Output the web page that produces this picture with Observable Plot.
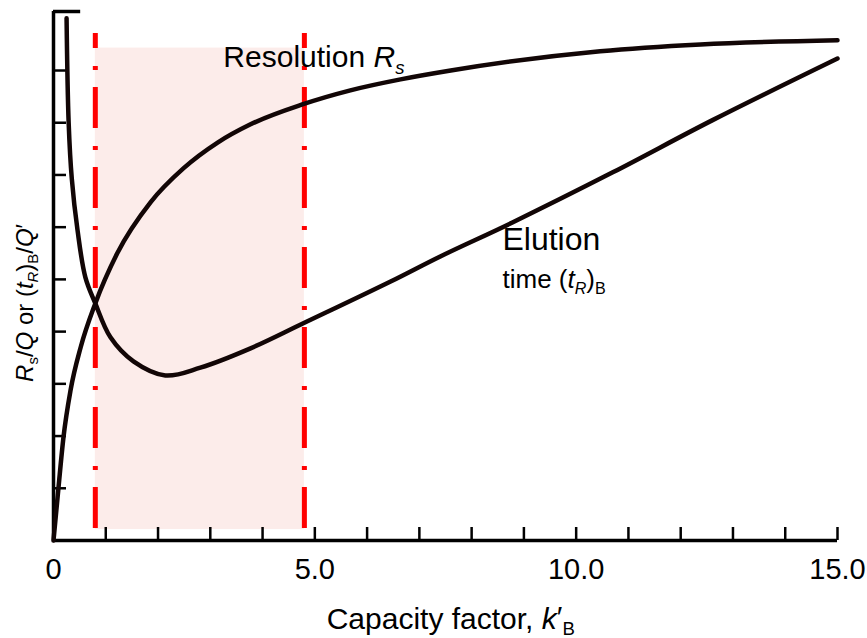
<!DOCTYPE html>
<html>
<head>
<meta charset="utf-8">
<script src="https://cdn.jsdelivr.net/npm/d3@7"></script>
<script src="https://cdn.jsdelivr.net/npm/@observablehq/plot@0.6"></script>
<style>
html, body { margin: 0; padding: 0; background: #fff; }
#chart svg { display: block; }
</style>
</head>
<body>
<div id="chart"></div>
<script>
// ---- data ----
const resolutionK = [0, 0.096, 0.19, 0.325, 0.52, 0.80, 1.22, 1.86, 2.49, 3.14, 3.77, 4.76, 5.68, 6.64, 7.60, 10.46, 12.38, 15.0];
const resolutionV = [0, 1.02, 1.97, 2.87, 3.70, 4.54, 5.50, 6.48, 7.13, 7.62, 7.97, 8.35, 8.62, 8.83, 9.00, 9.37, 9.50, 9.58];

const elutionK = [0.25, 0.29, 0.35, 0.46, 0.61, 0.80, 1.09, 1.53, 2.14, 2.81, 3.77, 4.78, 6.45, 7.40, 8.78, 10.70, 12.61, 15.0];
const elutionV = [10.0, 8.0, 6.93, 5.94, 5.04, 4.54, 3.89, 3.43, 3.16, 3.31, 3.68, 4.16, 4.96, 5.44, 6.09, 7.05, 8.05, 9.23];

const bandK = [0.8, 4.8];          // optimum k' range (dash-dot red lines)
const bandV = [0.21, 9.43];        // shaded region vertical extent
const cutoffV = [9.71, 0.23];      // dash-dot lines vertical extent (top, bottom)

const xTicks = [1, 2, 3, 4, 5, 6, 7, 8, 9, 10, 11, 12, 13, 14, 15];
const yTicks = [1, 2, 3, 4, 5, 6, 7, 8, 9];
const xTickValues = [0, 5, 10, 15];
const xTickLabels = ["0", "5.0", "10.0", "15.0"];

const xTitle = "Capacity factor, k'B";
const yTitle = "Rs/Q or (tR)B/Q'";
const resLabel = "Resolution Rs";
const eluLabel1 = "Elution";
const eluLabel2 = "time (tR)B";

// ---- build tables ----
const resolution = resolutionK.map((k, i) => ({k, v: resolutionV[i]}));
const elution = elutionK.map((k, i) => ({k, v: elutionV[i]}));
const band = [{x1: bandK[0], x2: bandK[1], y1: bandV[0], y2: bandV[1]}];

const FONT = "'Liberation Sans', Arial, Helvetica, sans-serif";
const INK = "#120606";

const chart = Plot.plot({
  width: 867,
  height: 638,
  marginLeft: 53,
  marginRight: 30,
  marginTop: 11,
  marginBottom: 98,
  style: {fontFamily: FONT, color: "#000", background: "#fff"},
  x: {domain: [0, 15]},
  y: {domain: [0, 10.13]},
  marks: [
    Plot.rect(band, {x1: "x1", x2: "x2", y1: "y1", y2: "y2", fill: "#fcecea"}),
    Plot.ruleX(bandK, {x: d => d, y1: cutoffV[0], y2: cutoffV[1], stroke: "#ff0000", strokeWidth: 5,
      strokeDasharray: "41,18,4,17", strokeDashoffset: 26}),
    // axis frame
    Plot.ruleX([0], {stroke: "#000", strokeWidth: 3.5}),
    Plot.ruleY([0], {stroke: "#000", strokeWidth: 3.5}),
    Plot.ruleY([10.13], {x1: 0, x2: 0.52, stroke: "#000", strokeWidth: 3.5}),
    Plot.axisX({ticks: xTicks, tickSize: -13, tickFormat: () => "", strokeWidth: 2.5}),
    Plot.axisY({ticks: yTicks, tickSize: -13, tickFormat: () => "", strokeWidth: 2.5, anchor: "left"}),
    // curves
    Plot.line(elution, {x: "k", y: "v", curve: "catmull-rom", stroke: INK, strokeWidth: 4.5, strokeLinecap: "round"}),
    Plot.line(resolution, {x: "k", y: "v", curve: "monotone-x", stroke: INK, strokeWidth: 4.5, strokeLinecap: "round"}),
    // tick labels
    Plot.text(xTickValues, {x: d => d, text: (d, i) => xTickLabels[i], frameAnchor: "bottom",
      lineAnchor: "bottom", dy: 38, fontSize: 29, fill: "#000"}),
    // axis titles
    Plot.text([xTitle], {x: () => 7.6, text: d => d, frameAnchor: "bottom", lineAnchor: "bottom",
      textAnchor: "middle", dy: 88, fontSize: 30, fill: "#000"}),
    Plot.text([yTitle], {y: () => 4.55, text: d => d, frameAnchor: "left", rotate: -90,
      textAnchor: "middle", lineAnchor: "middle", dx: -28, fontSize: 24, fill: "#000"}),
    // annotations
    Plot.text([resLabel], {x: () => 3.25, y: () => 9.06, text: d => d, textAnchor: "start",
      lineAnchor: "bottom", fontSize: 30, fill: "#000"}),
    Plot.text([eluLabel1], {x: () => 8.59, y: () => 5.56, text: d => d, textAnchor: "start",
      lineAnchor: "bottom", fontSize: 32, fill: "#000"}),
    Plot.text([eluLabel2], {x: () => 8.59, y: () => 4.83, text: d => d, textAnchor: "start",
      lineAnchor: "bottom", fontSize: 26, fill: "#000"})
  ]
});

// ---- rich text (italics, subscripts) ----
const NS = "http://www.w3.org/2000/svg";
const richParts = {
  [xTitle]: [{t: "Capacity factor, "}, {t: "k", i: true}, {t: "\u2032", sup: true}, {t: "B", sub: true}],
  [yTitle]: [{t: "R", i: true}, {t: "s", sub: true}, {t: "/"}, {t: "Q", i: true}, {t: " or ("}, {t: "t", i: true},
             {t: "R", i: true, sub: true}, {t: ")"}, {t: "B", sub: true}, {t: "/"}, {t: "Q", i: true}, {t: "\u2032"}],
  [resLabel]: [{t: "Resolution "}, {t: "R", i: true}, {t: "s", i: true, sub: true}],
  [eluLabel2]: [{t: "time ("}, {t: "t", i: true}, {t: "R", i: true, sub: true}, {t: ")"}, {t: "B", sub: true}]
};
d3.select(chart).selectAll("text").each(function () {
  const parts = richParts[this.textContent];
  if (!parts) return;
  const g = this.closest("g");
  const base = parseFloat(g && g.getAttribute("font-size")) || 27;
  this.textContent = "";
  let shift = 0;
  for (const p of parts) {
    const ts = document.createElementNS(NS, "tspan");
    ts.textContent = p.t;
    if (p.i) ts.setAttribute("font-style", "italic");
    let target = 0;
    if (p.sub) { target = 0.22 * base; ts.setAttribute("font-size", (0.62 * base).toFixed(1)); }
    if (p.sup) { target = -0.05 * base; }
    if (target !== shift) { ts.setAttribute("dy", (target - shift).toFixed(1)); shift = target; }
    if (p.dx) ts.setAttribute("dx", (p.dx * base).toFixed(1));
    this.appendChild(ts);
  }
});

document.getElementById("chart").appendChild(chart);
</script>
</body>
</html>
